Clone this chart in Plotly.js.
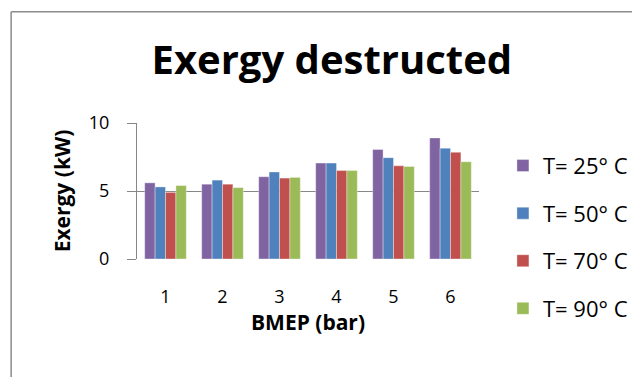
<!DOCTYPE html>
<html>
<head>
<meta charset="utf-8">
<script src="https://cdn.plot.ly/plotly-3.0.1.min.js"></script>
<style>
  html, body { margin: 0; padding: 0; background: #ffffff; }
  #chart { width: 632px; height: 377px; }
</style>
</head>
<body>
<div id="chart"></div>
<script>
// BMEP load points (bar)
const bmep = ['1', '2', '3', '4', '5', '6'];

// Destructed exergy (kW) at each coolant temperature
const seriesNames = ['T= 25° C', 'T= 50° C', 'T= 70° C', 'T= 90° C'];
const exergy25 = [5.6, 5.5, 6.05, 7.05, 8.05, 8.9];
const exergy50 = [5.3, 5.8, 6.4, 7.05, 7.45, 8.15];
const exergy70 = [4.9, 5.5, 5.95, 6.5, 6.85, 7.85];
const exergy90 = [5.4, 5.25, 6.0, 6.5, 6.8, 7.15];
const seriesColors = ['#8064A2', '#4F81BD', '#C0504D', '#9BBB59'];

const seriesValues = [exergy25, exergy50, exergy70, exergy90];

const traces = seriesValues.map((vals, i) => ({
  type: 'bar',
  name: seriesNames[i],
  x: bmep,
  y: vals,
  legendgroup: 'g' + i,
  marker: {
    color: seriesColors[i],
    line: { color: 'rgba(255,255,255,0.45)', width: 0.8 }
  },
  hoverinfo: 'x+y+name'
}));

const gridGray = '#878787';
const fontFamily = '"Open Sans", Lato, sans-serif';

const layout = {
  width: 632,
  height: 377,
  margin: { l: 137, r: 153, t: 123, b: 118, pad: 0, autoexpand: false },
  paper_bgcolor: '#ffffff',
  plot_bgcolor: '#ffffff',
  font: { family: fontFamily, color: '#000000' },
  title: {
    text: '<b>Exergy destructed</b>',
    font: { family: fontFamily, size: 40, color: '#000000' },
    xref: 'container', x: 0.525, xanchor: 'center',
    yref: 'container', y: 0.842, yanchor: 'middle'
  },
  barmode: 'group',
  bargap: 0.27,
  bargroupgap: 0,
  xaxis: {
    type: 'category',
    showgrid: false,
    showline: false,
    ticks: '',
    ticklabelstandoff: 25,
    tickfont: { size: 18 },
    title: {
      text: '<b>BMEP (bar)</b>',
      font: { size: 21 },
      standoff: 8
    },
    fixedrange: true
  },
  yaxis: {
    range: [0, 10],
    tickvals: [0, 5, 10],
    ticktext: ['0', '5', '10'],
    showgrid: true,
    gridcolor: gridGray,
    gridwidth: 1,
    showline: true,
    linecolor: gridGray,
    linewidth: 1,
    ticks: 'outside',
    ticklen: 9,
    tickcolor: gridGray,
    tickwidth: 1,
    ticklabelstandoff: 14,
    tickfont: { size: 18 },
    zeroline: false,
    title: {
      text: '<b>Exergy (kW)</b>',
      font: { size: 21 },
      standoff: 12
    },
    fixedrange: true
  },
  legend: {
    x: 1.07, xanchor: 'left',
    y: 0.84, yanchor: 'top',
    maxheight: 320,
    font: { size: 22, color: '#000000' },
    traceorder: 'grouped',
    tracegroupgap: 16,
    bgcolor: 'rgba(0,0,0,0)'
  },
  shapes: [
    // chart frame: left and top edges
    {
      type: 'line', xref: 'paper', yref: 'paper',
      x0: -0.368, x1: -0.368, y0: 1.818, y1: -1.2,
      line: { color: '#8c8c8c', width: 1.5 }
    },
    {
      type: 'line', xref: 'paper', yref: 'paper',
      x0: -0.368, x1: 1.6, y0: 1.818, y1: 1.818,
      line: { color: '#8c8c8c', width: 1.5 }
    }
  ]
};

Plotly.newPlot('chart', traces, layout, { displayModeBar: false, staticPlot: true });
</script>
</body>
</html>
